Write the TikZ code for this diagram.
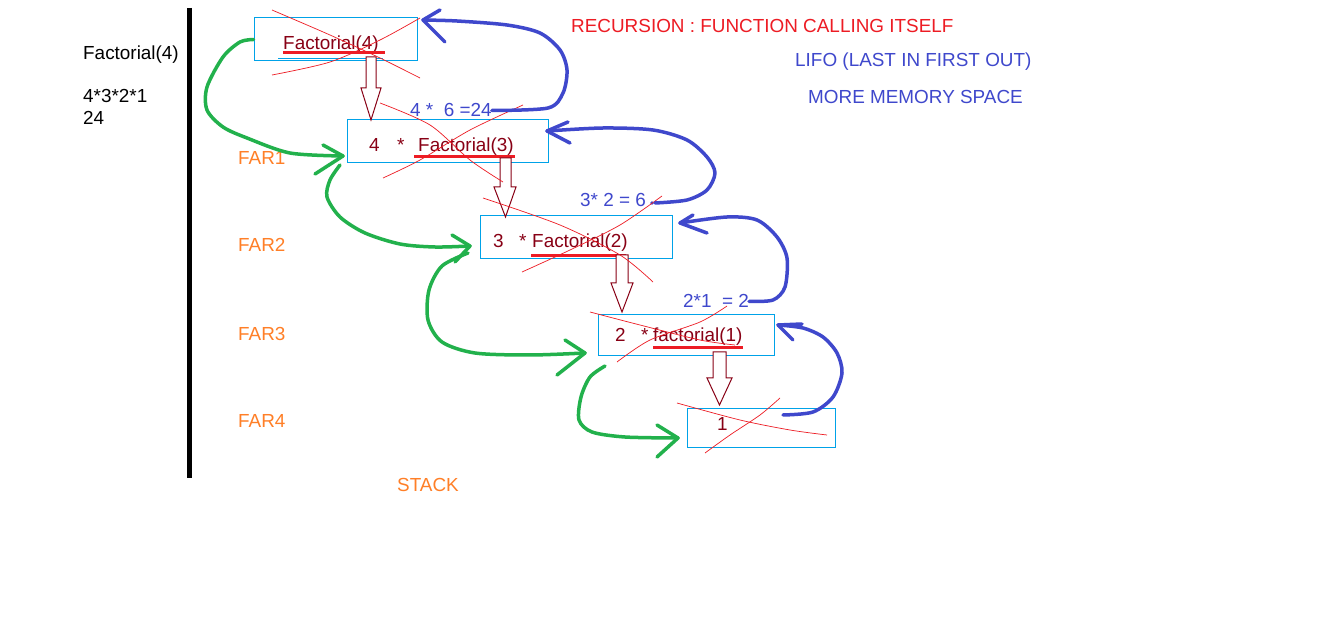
\documentclass[tikz,border=0pt]{standalone}
\usepackage{fontspec}
\setmainfont{Liberation Sans}
\begin{document}
\begin{tikzpicture}[x=1pt,y=-1pt,
  txt/.style={inner sep=0pt,anchor=base west,font=\fontsize{18.9}{22}\selectfont},
  fnc/.style={txt,text=fdark},
  calc/.style={txt,text=pblue},
  far/.style={txt,text=porange},
  frame/.style={draw=pcyan,line width=1pt,inner sep=0pt},
  uline/.style={draw=pred,line width=3pt},
  cross/.style={draw=pred,line width=0.7pt},
  push/.style={draw=fdark,line width=1pt,fill=white},
  ret/.style={draw=pblue,line width=3.5pt,line cap=round,line join=round},
  call/.style={draw=pgreen,line width=3.5pt,line cap=round,line join=round}]
\definecolor{fdark}{HTML}{880015}
\definecolor{pblue}{HTML}{3F48CC}
\definecolor{pgreen}{HTML}{22B14C}
\definecolor{porange}{HTML}{FF7F27}
\definecolor{pred}{HTML}{ED1C24}
\definecolor{pcyan}{HTML}{00A2E8}
\useasboundingbox[fill=white] (0,0) rectangle (1326,644);

% left column
\draw[line width=4.5pt] (189.5,8) -- (189.5,478);
\node[txt] (lf) at (83,60) {Factorial(4)};
\node[txt] (lm) at (83,103) {4*3*2*1};
\node[txt] (lr) at (83,125) {24};

% titles
\node[txt,text=pred] (t1) at (571,33) {RECURSION : FUNCTION CALLING ITSELF};
\node[calc] (t2) at (795,67) {LIFO (LAST IN FIRST OUT)};
\node[calc] (t3) at (808,104) {MORE MEMORY SPACE};

% FAR labels
\node[far] (far1) at (238,165) {FAR1};
\node[far] (far2) at (238,252) {FAR2};
\node[far] (far3) at (238,341) {FAR3};
\node[far] (far4) at (238,428) {FAR4};
\node[far] (stack) at (397,491) {STACK};

% boxes
\node[frame,minimum width=163pt,minimum height=43pt] (b1) at (335.5,39.5) {};
\node[frame,minimum width=201pt,minimum height=43pt] (b2) at (447.5,141.5) {};
\node[frame,minimum width=192pt,minimum height=43pt] (b3) at (576,237.5) {};
\node[frame,minimum width=176pt,minimum height=41pt] (b4) at (686,335.5) {};
\node[frame,minimum width=148pt,minimum height=39pt] (b5) at (761,427.5) {};

% box texts
\node[fnc] (f4) at (283,50) {Factorial(4)};
\node[fnc] (n4) at (369,152) {4};
\node[fnc] (s4) at (397,152) {*};
\node[fnc] (f3) at (418,152) {Factorial(3)};
\node[fnc] (n3) at (493,248) {3};
\node[fnc] (s3) at (519,248) {*};
\node[fnc] (f2) at (532,248) {Factorial(2)};
\node[fnc] (n2) at (615,342) {2};
\node[fnc] (s2) at (641,342) {*};
\node[fnc] (f1) at (653,342) {factorial(1)};
\node[fnc] (one) at (717,430) {1};

% underlines
\draw[uline] (283,53) -- (385,53);
\draw[draw=pcyan,line width=0.8pt] (278,58) -- (383,58);
\draw[uline] (414,157) -- (515,157);
\draw[uline] (531,256) -- (626,256);
\draw[uline] (653,348) -- (743,348);

% result labels
\node[calc] (r24) at (410,117) {4 *\ \ 6 =24};
\node[calc] (r6) at (580,207) {3* 2 = 6};
\node[calc] (r2) at (683,308) {2*1\ \ = 2};
\fill[pblue] (652,203) circle (1.8pt);

% hollow push arrows
\newcommand{\pusharrow}[7]{% x1 x2 ytop yhead hx1 hx2 ytip
  \filldraw[push] (#1,#3) -- (#1,#4) -- (#5,#4) -- ({(#1+#2)/2},#7) -- (#6,#4) -- (#2,#4) -- (#2,#3) -- cycle;}
\pusharrow{366}{376}{57}{88}{361}{381}{120}
\pusharrow{500}{511}{158}{187}{494}{516}{217}
\pusharrow{616}{628}{255}{283}{611}{633}{312}
\pusharrow{713}{726}{352}{378}{707}{732}{405}

% red crossing strokes
\draw[cross] plot[smooth] coordinates {(272,10) (330,35) (380,58) (420,78)};
\draw[cross] plot[smooth] coordinates {(272,75) (330,62) (380,40) (420,18)};
\draw[cross] plot[smooth] coordinates {(380,103) (430,125) (470,160) (503,182)};
\draw[cross] plot[smooth] coordinates {(383,178) (420,160) (470,130) (523,105)};
\draw[cross] plot[smooth] coordinates {(483,198) (560,225) (620,255) (653,282)};
\draw[cross] plot[smooth] coordinates {(522,272) (570,250) (620,225) (662,196)};
\draw[cross] plot[smooth] coordinates {(590,312) (640,325) (700,340) (735,345)};
\draw[cross] plot[smooth] coordinates {(617,362) (650,340) (700,322) (727,306)};
\draw[cross] plot[smooth] coordinates {(677,403) (740,420) (790,430) (827,435)};
\draw[cross] plot[smooth] coordinates {(705,453) (730,435) (760,415) (780,398)};

% return arcs (blue)
\coordinate (h1) at (423,20);
\coordinate (h2) at (547,131);
\coordinate (h3) at (680,223);
\coordinate (h4) at (778,325);
\draw[ret] plot[smooth] coordinates {(r24.east) (548,108) (563,93) (567,70) (560,50) (540,33) (507,25) (457,21) (h1)};
\draw[ret] (440,10) -- (h1) -- (445,42);
\draw[ret] plot[smooth] coordinates {(655,203) (687,200) (707,190) (715,173) (707,157) (687,140) (653,130) (603,128) (h2)};
\draw[ret] (568,122) -- (h2) -- (570,143);
\draw[ret] plot[smooth] coordinates {(r2.east) (773,300) (785,287) (787,258) (777,237) (757,220) (727,217) (h3)};
\draw[ret] (693,215) -- (h3) -- (707,233);
\draw[ret] plot[smooth] coordinates {(783,415) (813,412) (833,397) (842,373) (837,353) (823,337) (803,328) (h4)};
\draw[ret] (802,324) -- (h4) -- (793,340);

% call arcs (green)
\coordinate (g1) at (343,156);
\coordinate (g2) at (470,246);
\coordinate (g3) at (585,353);
\coordinate (g4) at (678,438);
\draw[call] plot[smooth] coordinates {(b1.west) (240,42) (223,57) (207,87) (207,110) (223,127) (247,138) (290,153) (g1)};
\draw[call] (323,145) -- (g1) -- (315,174);
\draw[call] plot[smooth] coordinates {(340,165) (330,180) (327,197) (340,217) (365,233) (400,244) (435,247) (g2)};
\draw[call] (452,235) -- (g2) -- (455,262);
\draw[call] plot[smooth] coordinates {(468,253) (442,266) (429,290) (428,320) (442,342) (475,353) (530,355) (g3)};
\draw[call] (565,340) -- (g3) -- (557,375);
\draw[call] plot[smooth] coordinates {(605,366) (590,377) (581,397) (579,420) (592,432) (625,437) (g4)};
\draw[call] (657,425) -- (g4) -- (657,457);
\end{tikzpicture}
\end{document}
